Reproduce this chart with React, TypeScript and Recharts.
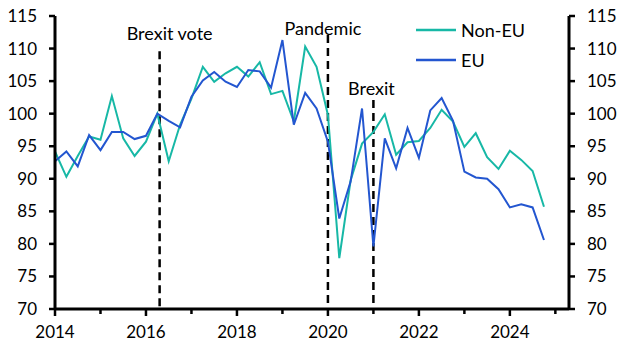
import { LineChart, Line, XAxis, YAxis, ReferenceLine, Legend } from 'recharts';

// quarterly index, 2014 Q1 to 2024 Q4
const years = [2014, 2015, 2016, 2017, 2018, 2019, 2020, 2021, 2022, 2023, 2024];
const quarterOffsets = [0, 0.25, 0.5, 0.75];

const nonEU = [
  94.2, 90.3, 93.5, 96.5, 96.0, 102.7, 96.2, 93.5, 95.7, 100.0, 92.7,
  98.3, 102.3, 107.2, 104.9, 106.2, 107.2, 105.7, 107.9, 103.0, 103.5, 98.8,
  110.3, 107.2, 99.8, 77.8, 89.8, 95.4, 97.2, 99.9, 93.7, 95.6, 95.8,
  97.8, 100.6, 98.8, 94.9, 97.0, 93.3, 91.5, 94.3, 92.9, 91.2, 85.7,
];
const eu = [
  92.7, 94.2, 91.9, 96.7, 94.4, 97.2, 97.2, 96.1, 96.6, 100.0, 98.9,
  97.9, 102.6, 105.1, 106.4, 104.9, 104.1, 106.7, 106.5, 104.0, 111.3, 98.3,
  103.2, 100.8, 95.7, 83.9, 89.6, 100.8, 79.6, 96.2, 91.6, 97.8, 93.2,
  100.5, 102.4, 98.9, 91.1, 90.2, 90.0, 88.4, 85.6, 86.1, 85.6, 80.6,
];

const xTicks = [2014, 2015, 2016, 2017, 2018, 2019, 2020, 2021, 2022, 2023, 2024, 2025];
const yTicks = [70, 75, 80, 85, 90, 95, 100, 105, 110, 115];

const events = [
  { label: 'Brexit vote', at: 2016.3, top: 109.6, dx: 10, dy: -11 },
  { label: 'Pandemic', at: 2020, top: 112.1, dx: -5, dy: 0 },
  { label: 'Brexit', at: 2021, top: 102.1, dx: -2, dy: -5 },
];

const TEAL = '#17b8a6';
const BLUE = '#2356d0';
const FONT = 'Lato, "Noto Sans", sans-serif';

const times = years.flatMap((y) => quarterOffsets.map((q) => y + q));
const data = times.map((t, i) => ({ t, nonEU: nonEU[i], eu: eu[i] }));

const XTick = ({ x, y, payload }: any) => {
  const major = payload.value % 2 === 0;
  return (
    <g>
      <line x1={x} x2={x} y1={y} y2={y + (major ? 7 : 5)} stroke="#000" strokeWidth={2.5} />
      {major && (
        <text x={x} y={y + 29} textAnchor="middle" fontSize={17} fontFamily={FONT} fill="#000">
          {payload.value}
        </text>
      )}
    </g>
  );
};

const LeftTick = ({ x, y, payload }: any) => (
  <g>
    <line x1={x - 6} x2={x} y1={y} y2={y} stroke="#000" strokeWidth={2.5} />
    <text x={x - 18} y={y + 6} textAnchor="end" fontSize={17} fontFamily={FONT} fill="#000">
      {payload.value}
    </text>
  </g>
);

const RightTick = ({ x, y, payload }: any) => (
  <g>
    <line x1={x} x2={x + 6} y1={y} y2={y} stroke="#000" strokeWidth={2.5} />
    <text x={x + 18} y={y + 6} textAnchor="start" fontSize={17} fontFamily={FONT} fill="#000">
      {payload.value}
    </text>
  </g>
);

const legendItems = [
  { name: 'Non-EU', color: TEAL },
  { name: 'EU', color: BLUE },
];

const renderLegend = () => (
  <div style={{ fontFamily: FONT, fontSize: 18 }}>
    {legendItems.map((it) => (
      <div key={it.name} style={{ display: 'flex', alignItems: 'center', height: 30 }}>
        <svg width={45} height={4} style={{ display: 'block' }}>
          <line x1={0} x2={40} y1={2} y2={2} stroke={it.color} strokeWidth={2.5} />
        </svg>
        <span style={{ lineHeight: '30px' }}>{it.name}</span>
      </div>
    ))}
  </div>
);

export default function App() {
  return (
    <div style={{ position: 'absolute', left: 0, top: 0, background: '#fff' }}>
      <LineChart width={627} height={353} data={data} margin={{ top: 16, right: 0, bottom: 0, left: 0 }}>
        <XAxis
          type="number"
          dataKey="t"
          domain={[2014, 2025.3]}
          ticks={xTicks}
          allowDataOverflow
          height={44}
          tickSize={0}
          tickMargin={0}
          tickLine={false}
          axisLine={{ stroke: '#000', strokeWidth: 3 }}
          tick={<XTick />}
          interval={0}
        />
        <YAxis
          yAxisId="left"
          domain={[70, 115]}
          ticks={yTicks}
          width={55}
          tickSize={0}
          tickMargin={0}
          tickLine={false}
          axisLine={{ stroke: '#000', strokeWidth: 3 }}
          tick={<LeftTick />}
          interval={0}
        />
        <YAxis
          yAxisId="right"
          orientation="right"
          domain={[70, 115]}
          ticks={yTicks}
          width={58}
          tickSize={0}
          tickMargin={0}
          tickLine={false}
          axisLine={{ stroke: '#000', strokeWidth: 3 }}
          tick={<RightTick />}
          interval={0}
        />
        {events.map((ev) => (
          <ReferenceLine
            key={ev.label}
            yAxisId="left"
            segment={[{ x: ev.at, y: ev.top }, { x: ev.at, y: 70 }]}
            stroke="#000"
            strokeWidth={2.5}
            strokeDasharray="8 5"
            label={(props: any) => (
              <text
                x={props.viewBox.x + ev.dx}
                y={props.viewBox.y + ev.dy}
                textAnchor="middle"
                fontSize={18}
                fontFamily={FONT}
                fill="#000"
              >
                {ev.label}
              </text>
            )}
          />
        ))}
        {/* invisible copy so the right-hand axis gets drawn */}
        <Line yAxisId="right" type="linear" dataKey="eu" stroke="none" dot={false} activeDot={false} legendType="none" isAnimationActive={false} />
        <Line yAxisId="left" type="linear" dataKey="nonEU" name="Non-EU" stroke={TEAL} strokeWidth={2} dot={false} isAnimationActive={false} />
        <Line yAxisId="left" type="linear" dataKey="eu" name="EU" stroke={BLUE} strokeWidth={2} dot={false} isAnimationActive={false} />
        <Legend
          layout="horizontal"
          verticalAlign="middle"
          align="center"
          content={renderLegend}
          wrapperStyle={{ left: 416, top: 15, width: 130 }}
        />
      </LineChart>
    </div>
  );
}
